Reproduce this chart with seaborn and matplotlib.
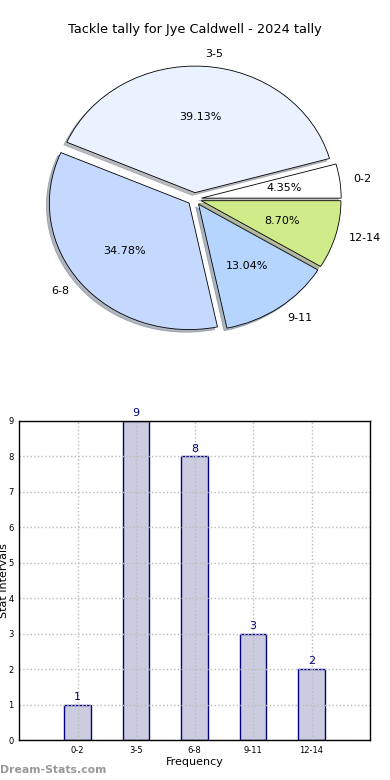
import matplotlib
matplotlib.use("Agg")
import matplotlib.pyplot as plt
import seaborn as sns
import pandas as pd

categories = ["0-2", "3-5", "6-8", "9-11", "12-14"]
counts = [1, 9, 8, 3, 2]
pie_colors = ["#FFFFFF", "#EAF1FF", "#C5D9FF", "#B5D5FF", "#D0EB8A"]
title = "Tackle tally for Jye Caldwell - 2024 tally"
yticks = list(range(0, 10))

sns.set_style("white")
plt.rcParams["font.family"] = ["DejaVu Sans"]
plt.rcParams["text.color"] = "black"
plt.rcParams["axes.labelcolor"] = "black"
plt.rcParams["xtick.color"] = "black"
plt.rcParams["ytick.color"] = "black"

fig = plt.figure(figsize=(3.9, 7.8), dpi=100)

# Pie
ax1 = fig.add_axes([19/390, 1 - 358/780, 351/390, 318/780])
wedges, texts, autotexts = ax1.pie(
    counts, labels=categories, explode=[0.05]*5, radius=0.995,
    shadow={"ox": -0.015, "oy": -0.015, "shade": 0.5},
    autopct="%1.2f%%", startangle=0, colors=pie_colors,
    wedgeprops=dict(edgecolor="black", linewidth=0.6),
    textprops=dict(fontsize=8, color="black"))
ax1.set_aspect("auto")
ax1.set_xlim(-1.25, 1.25)
ax1.set_ylim(-1.25, 1.25)
ax1.set_title(title, fontsize=9.3, pad=5, color="black")

# Bar
ax2 = fig.add_axes([19/390, 40/780, 351/390, 319/780])
df = pd.DataFrame({"cat": categories, "val": counts})
sns.barplot(data=df, x="cat", y="val", ax=ax2, width=0.45,
            color="#CCCCE0", edgecolor="#000080", linewidth=1.0,
            saturation=1)
ax2.set_xlim(-1, 5)
ax2.set_ylim(0, 9)
ax2.set_yticks(yticks)
ax2.grid(True, color="#BBBBBB", linestyle=":", linewidth=1.0)
ax2.set_axisbelow("line")
for s in ax2.spines.values():
    s.set_visible(True)
    s.set_color("black")
    s.set_linewidth(1.0)
    s.set_zorder(3)
ax2.tick_params(axis="both", labelsize=6, length=2, direction="in", pad=4)
for c in ax2.containers:
    ax2.bar_label(c, labels=[str(v) for v in counts], padding=2,
                  color="#000080", fontsize=8)
ax2.set_xlabel("Frequency", fontsize=8, labelpad=2)
ax2.set_ylabel("Stat Intervals", fontsize=8)
ax2.yaxis.set_label_coords(-0.028, 0.5)

fig.text(0.0, 0.013, "Dream-Stats.com", color="#999999", fontsize=7.8,
         fontweight="bold", va="center", ha="left")

fig.savefig("out.png", dpi=100)
